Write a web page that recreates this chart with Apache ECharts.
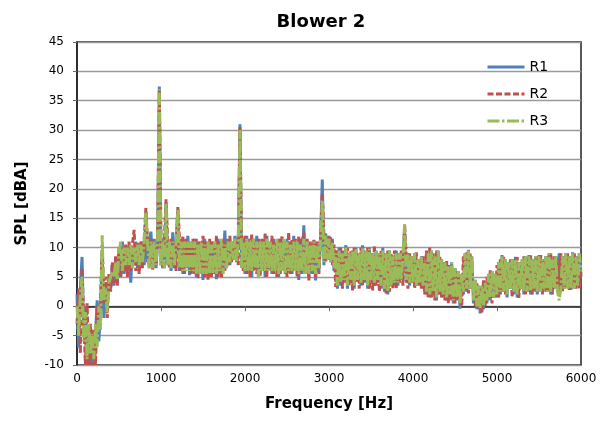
<!DOCTYPE html>
<html><head><meta charset="utf-8">
<script src="https://cdn.jsdelivr.net/npm/echarts@6/dist/echarts.min.js"></script>
<style>html,body{margin:0;padding:0;background:#fff}#c{width:602px;height:428px}</style>
</head><body><div id="c"></div>
<script>
// Frequency sampling step (Hz) of the spectra below, starting at 0 Hz
const FREQ_STEP = 20;
const seriesNames = ['R1', 'R2', 'R3'];
const xTicks = [0, 1000, 2000, 3000, 4000, 5000, 6000];

// SPL [dBA] values, one value every 20 Hz from 0 to 6000 Hz
const r1 = [
 2,-7,3,8.4,-5,0,-10,-4,-10,-6,
 -10,-5,1,-6,-1,9,-2,4,0,5,
 3,7,3.5,8,4,9.5,5,11,5.5,10,
 6,10.5,4,10,7,11,6.5,10.5,7,11,
 7,16,7.5,11,12.7,7,11.5,6.5,11,37.4,
 7,11.5,6.5,17.5,7,11,6,12.6,6.5,11,
 16.5,6,11.5,5.5,11,6.5,12,5.3,11,6,
 11.5,5,11,5.5,10.5,4.5,11.5,5.5,10.5,5,
 11,6,10.5,4.6,11.5,5.5,10.5,6,12.9,6.5,
 11.5,7,11,8,12,7.5,11,31,6.5,11.5,
 5.5,12,6,11,5,11.5,6.5,12,5,11,
 6,11.5,5,12,6,11,5.5,11.5,6,10.5,
 5,11.5,6,11,5.5,11.5,6,11,5.5,12,
 6,11,4.5,11.5,5.5,13.8,6,11,5,10.5,
 5.5,11,4.4,10.5,6,11.5,21.6,7,12.4,8,
 12,7.5,11.5,6,9.5,3,10,3.5,9.5,4.5,
 10.4,3,9,4,9.5,3,10,4.5,9,3.5,
 10.4,4,9.5,3,10,4.5,9,3.5,9.5,4,
 9,3,10,2.5,9,2,9.5,3.5,8.5,4,
 9.5,3.5,9,4.5,8.5,13,4,9,3.5,8.5,
 4,9,3.5,8,4,8.5,3,7.5,2,9,
 1.5,9.5,2,8.5,1,9.5,2,8,1.5,7.5,
 1,7,1.5,7.5,0.5,6.5,1,6,-0.4,5.5,
 2,9,2.5,9.6,3,8.5,0.5,4.5,-0.5,3.5,
 -1.2,3.5,-0.5,4,0.5,5.5,1,6,1.5,5.5,
 1.5,7.5,2,8.7,2.5,8,1.5,7.5,3,8,
 2,8.4,1.5,7.5,3,8,2,8.5,2.5,8.7,
 2,8,3,8.5,2,8.7,2.5,8,3,8.5,
 2.5,9,2,8,3,8.5,2.5,9,3,8.5,
 3,9,3.3,8.5,2.8,9.2,3,8.5,3.5,9,
 5
];
const r2 = [
 -3,3,-8,6.5,-2,-10,0.5,-10,-3,-10,
 -4,-10,0,-4,1,10.5,0.5,5,-2,5.5,
 2.5,7.5,4,8.5,3.5,10,5,10,6,10.5,
 5,11,6,10.5,13,6,11,5.5,11,6.5,
 11.5,16.7,11,6.5,11.5,6.1,11,7,11.7,36.8,
 11,6.5,11.5,18.2,11,6.5,11.5,7,11,6,
 16.9,11.5,6,12,5.5,11.5,6.6,11,5.3,11.5,
 5.5,11.5,4.8,11,5.8,12,5,11,4.4,11.5,
 5,11,5.5,12,5,11,4.8,11.5,6,11,
 7,12,7.5,11,8,11.5,7,30.5,11,6,
 12,5.5,11.5,5,12.2,6,11,5.5,11.5,5,
 11.5,6,12.4,5,11,6.2,12,5.5,11,5,
 11.5,5.5,12,6,11,5,12.6,5.5,11.5,6,
 11.5,5,12,5.5,11,12.5,5.5,11.5,4.4,11,
 6,11.5,5,11,5.5,12,19.2,12,7.5,12,
 7.8,11.8,7,10.5,3.3,9.5,4,10,3,9,
 4,10,3.5,9.5,2.7,10,4,9,3,10,
 3.5,9.5,4.5,10,3,9,2.7,10.4,3.5,9,
 2.5,9.5,3.5,9,2.2,9.5,2.5,9,3,9.5,
 3,9,4,9.5,3.5,14,8.5,3,9,4,
 8.5,3,9.2,3.5,8,3,8.5,2,9.5,1.5,
 10,1.5,9,1,9.5,2,8.5,1.5,7.5,1,
 7.8,0.5,7,1,6.5,0.5,6,1,5.5,0,
 8.5,2.5,9.2,2.2,9,3,4.4,0,4,-0.5,
 3.3,-1.2,4.4,0,5,1,6.1,0.5,5.5,1.5,
 7,1.5,8,2.5,8.4,2,7.5,3,8,1.5,
 8,2.5,8.4,1.4,7.5,3,8.5,2,8,2.5,
 8.7,2,8,2.5,8.5,3,8.7,2,8,2.5,
 8.5,2.6,9,2,8.5,3,8,2.6,9,2.5,
 8.5,3,9,2.8,8.4,3.3,9.2,3,8.5,3,
 6
];
const r3 = [
 0,-5,2,5,-6,-1,-9,-3,-8,-5,
 -9,-3,-7,0,-4,12.1,1,3,-1,4,
 4,6,5,7.5,4.5,9,11,6,10,7,
 10,7,10.5,6.5,10,7.5,10.5,7,10.5,7.5,
 11,16,10.5,6.5,11,6.5,11,7,11,37,
 7,11,6.5,17.5,7,11,6.5,11,7,11,
 16.5,6.5,11,6,11,6,11,6,11,6,
 11,5.5,10.5,5.5,11,5.5,10.5,5.5,11,5.5,
 10.5,5.5,11,5.5,10.5,6,11.5,5.5,10.5,6.5,
 11,7.5,11,8,11.5,7.5,11,30,6.5,11,
 6,11.5,6,11,6,11.5,6.5,11,4.8,11,
 6,11,6,11.5,6,11,6,10.5,6,11.5,
 5.5,11,6,11.5,5.5,11,6,10.5,6,11,
 6,11,5.5,10.5,6,11.5,5.5,11,5.5,10.5,
 6,11,5.5,10.5,6.5,11.5,18,7.5,12,8,
 11.5,7.5,11,6.5,9,3.5,9.5,4,9,4.5,
 10,3.5,9,4.5,9.5,3.5,9.8,4.5,9,4,
 10,4.5,9.5,3.5,9.8,4.5,9,4,9.5,4.5,
 9,3.5,9.5,3,9,2.5,9.5,3.5,8.5,4,
 9,4,9,4.5,8.5,13.9,4.5,9,4,8.5,
 4,9,3.5,8,4,8.5,3.5,7.5,2.5,9,
 2,9.5,2.5,8.5,1.5,9.5,2.5,8,2,7.5,
 1.5,7,2,7.5,1,6.5,1.5,6,0.5,5.5,
 2.5,9,3,9.5,3,8.5,1,4.5,0,3.5,
 -0.5,3.5,0,4,1,5.5,1.5,6,1.5,5.5,
 2,7.5,2.5,8.5,2.5,8,2,7.5,3,8,
 2.5,8,2,7.5,3,8,2.5,8.5,2.5,8.5,
 2.5,8,3,8.5,2.5,8.5,2.5,8,3,8.5,
 2.5,9,2.5,8,3,8.5,2.5,1,3,8.5,
 3,9,3,8.5,3,9,3,8.5,3.5,9,
 6
];

const seriesValues = [r1, r2, r3];
const colors = ['#4F81BD', '#C0504D', '#9BBB59'];
const dashes = ['solid', [6, 2.5], [12, 2.5, 2.5, 2.5]];

function pairs(vals) { return vals.map((v, i) => [i * FREQ_STEP, v]); }

const FONT = '"DejaVu Sans", Verdana, sans-serif';
const chart = echarts.init(document.getElementById('c'), null, { renderer: 'canvas' });
chart.setOption({
  animation: false,
  backgroundColor: '#ffffff',
  title: {
    text: 'Blower 2', left: 316, top: 8, textAlign: 'center',
    textStyle: { fontFamily: FONT, fontSize: 18, fontWeight: 'bold', color: '#000' }
  },
  legend: {
    orient: 'vertical', left: 486, top: 60, itemWidth: 37, itemHeight: 14, itemGap: 13,
    padding: 0,
    itemStyle: { opacity: 0 },
    lineStyle: { opacity: 1, width: 3 },
    textStyle: { fontFamily: FONT, fontSize: 14, color: '#000' },
    data: seriesNames
  },
  grid: { left: 77, right: 21, top: 42, bottom: 63, show: true, borderColor: '#222', borderWidth: 1.5, containLabel: false },
  xAxis: {
    type: 'value', min: xTicks[0], max: xTicks[xTicks.length - 1], interval: 1000,
    name: 'Frequency [Hz]', nameLocation: 'middle', nameGap: 32,
    nameTextStyle: { fontFamily: FONT, fontSize: 15, fontWeight: 'bold', color: '#000' },
    axisLine: { lineStyle: { color: '#222', width: 1.5 } },
    axisTick: { show: true, inside: false, length: 5, lineStyle: { color: '#666' } },
    axisLabel: { fontFamily: FONT, fontSize: 12, color: '#000', margin: 8, formatter: v => String(v) },
    splitLine: { show: false }
  },
  yAxis: {
    type: 'value', min: -10, max: 45, interval: 5,
    name: 'SPL [dBA]', nameLocation: 'middle', nameGap: 47, nameRotate: 90,
    nameTextStyle: { fontFamily: FONT, fontSize: 15, fontWeight: 'bold', color: '#000' },
    axisLine: { show: true, lineStyle: { color: '#222', width: 1.5 } },
    axisTick: { show: true, length: 4, lineStyle: { color: '#666' } },
    axisLabel: { fontFamily: FONT, fontSize: 12, color: '#000', margin: 13 },
    splitLine: { show: true, lineStyle: { color: '#9a9a9a', width: 1.3 } }
  },
  series: seriesNames.map((n, k) => ({
    name: n, type: 'line', data: pairs(seriesValues[k]), showSymbol: false, symbol: 'none',
    color: colors[k], z: 2 + k,
    lineStyle: { color: colors[k], width: 3, type: dashes[k] },
    clip: true
  }))
});
</script></body></html>
